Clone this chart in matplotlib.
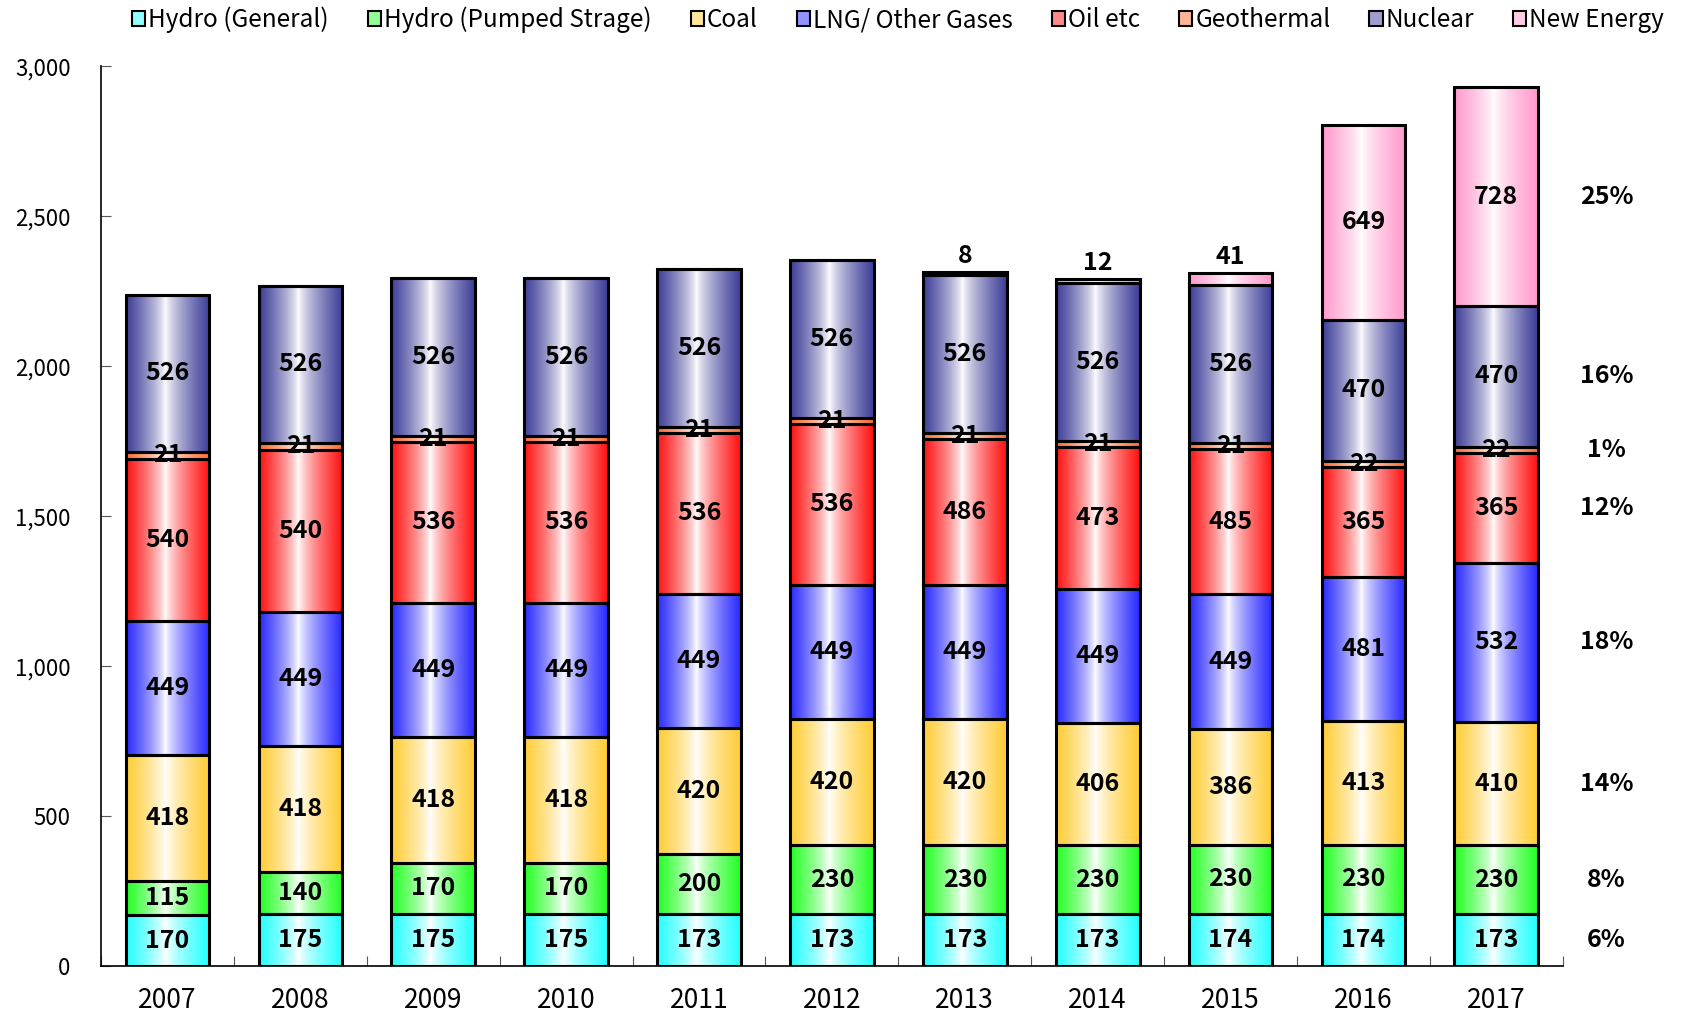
import numpy as np
import matplotlib
matplotlib.use('Agg')
from matplotlib import pyplot as plt
from matplotlib.patches import Patch
from matplotlib.colors import to_rgb

plt.rcParams['font.family'] = ['Noto Sans CJK JP', 'DejaVu Sans']

years = ['2007', '2008', '2009', '2010', '2011', '2012', '2013', '2014', '2015', '2016', '2017']
names = ['Hydro (General)', 'Hydro (Pumped Strage)', 'Coal', 'LNG/ Other Gases',
         'Oil etc', 'Geothermal', 'Nuclear', 'New Energy']

hydro_gen = [170, 175, 175, 175, 173, 173, 173, 173, 174, 174, 173]
hydro_pump = [115, 140, 170, 170, 200, 230, 230, 230, 230, 230, 230]
coal = [418, 418, 418, 418, 420, 420, 420, 406, 386, 413, 410]
lng = [449, 449, 449, 449, 449, 449, 449, 449, 449, 481, 532]
oil = [540, 540, 536, 536, 536, 536, 486, 473, 485, 365, 365]
geo = [21, 21, 21, 21, 21, 21, 21, 21, 21, 22, 22]
nuclear = [526, 526, 526, 526, 526, 526, 526, 526, 526, 470, 470]
new_energy = [0, 0, 0, 0, 0, 0, 8, 12, 41, 649, 728]

shares_2017 = ['6%', '8%', '14%', '18%', '12%', '1%', '16%', '25%']

series = [hydro_gen, hydro_pump, coal, lng, oil, geo, nuclear, new_energy]
colors = ['#22FFFF', '#22FF22', '#FFCC33', '#2828FF', '#FF1010', '#FF6A2A', '#3C3C98', '#FF99CC']

fig = plt.figure(figsize=(16.82, 10.13), dpi=100)
ax = fig.add_axes([0.0601, 0.0464, 0.8690, 0.8881])

x = np.arange(len(years))
width = 0.63
bottom = np.zeros(len(years))


def gradient(col, n=200, mid=0.47):
    c = np.array(to_rgb(col))
    t = np.linspace(0, 1, n)
    a = np.where(t < mid, (mid - t) / mid, (t - mid) / (1 - mid))
    a = a ** 0.75
    rgb = (1 - a)[:, None] * 1.0 + a[:, None] * c[None, :]
    return rgb[None, :, :]


for k, (vals, col) in enumerate(zip(series, colors)):
    vals = np.array(vals, dtype=float)
    bars = ax.bar(x, vals, width, bottom=bottom, facecolor='none',
                  edgecolor='black', linewidth=2.2, zorder=3)
    g = gradient(col)
    for b, v in zip(bars, vals):
        if v <= 0:
            continue
        x0, y0 = b.get_x(), b.get_y()
        ax.imshow(g, extent=[x0, x0 + b.get_width(), y0, y0 + b.get_height()],
                  aspect='auto', interpolation='bilinear', zorder=2)
    for i, v in enumerate(vals):
        if v <= 0:
            continue
        if k == 7 and v < 100:
            ax.annotate(f'{int(v)}', (x[i], bottom[i] + v), xytext=(0, 3),
                        textcoords='offset points', ha='center', va='bottom',
                        fontsize=18, fontweight='bold', zorder=5)
        else:
            ax.text(x[i], bottom[i] + v / 2, f'{int(v)}', ha='center', va='center',
                    fontsize=18, fontweight='bold', zorder=5)
    # share labels for 2017
    ax.text(10.83, bottom[-1] + vals[-1] / 2, shares_2017[k], ha='center', va='center',
            fontsize=18, fontweight='bold')
    bottom += vals

ax.set_xlim(-0.5, 10.5)
ax.set_ylim(0, 3000)
ax.spines['top'].set_visible(False)
ax.spines['right'].set_visible(False)
ax.spines['left'].set_linewidth(1.2)
ax.spines['bottom'].set_linewidth(1.2)

ax.set_yticks(np.arange(0, 3001, 500))
ax.set_yticklabels([f'{v:,}' for v in range(0, 3001, 500)])
ax.tick_params(axis='y', direction='in', length=7, pad=22, labelsize=16, color='#555555')

ax.set_xticks(np.arange(-0.5, 11, 1))
ax.set_xticklabels([])
ax.tick_params(axis='x', which='major', direction='in', length=7, color='#555555')
ax.set_xticks(x, minor=True)
ax.set_xticklabels(years, minor=True)
ax.tick_params(axis='x', which='minor', length=0, pad=15, labelsize=19)

handles = [Patch(facecolor=np.array(to_rgb(c)) * 0.5 + 0.5, edgecolor='black',
                 linewidth=1.5) for c in colors]
fig.legend(handles, names, loc='upper right', bbox_to_anchor=(0.998, 1.008), ncol=8,
           frameon=False, fontsize=17.5, handlelength=0.55, handleheight=0.55,
           handletextpad=0.12, columnspacing=1.6, borderaxespad=0.2)

fig.savefig('out.png', dpi=100)
